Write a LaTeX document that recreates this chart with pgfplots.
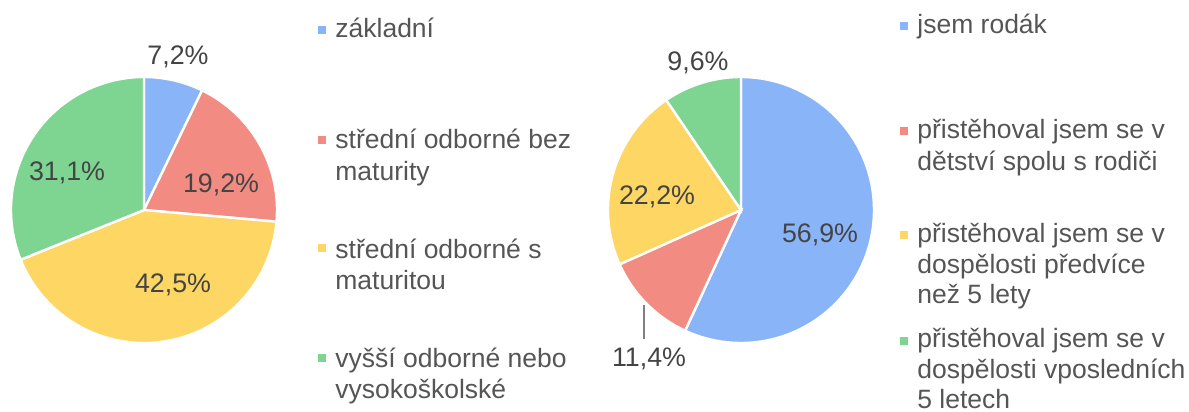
\documentclass[border=0pt]{standalone}
\usepackage{pgfplots}
\pgfplotsset{compat=1.18}
\usepackage{fontspec}
\setmainfont{Liberation Sans}
\definecolor{cBlue}{HTML}{8AB4F8}
\definecolor{cRed}{HTML}{F28B82}
\definecolor{cYellow}{HTML}{FDD663}
\definecolor{cGreen}{HTML}{7ED491}
\definecolor{lblText}{HTML}{444444}
\definecolor{legText}{HTML}{555555}
% data (percent)
\def\LA{7.2}\def\LB{19.2}\def\LC{42.5}\def\LD{31.1}
\def\RA{56.9}\def\RB{11.4}\def\RC{22.2}\def\RD{9.6}
\pgfmathsetmacro\LaA{90}
\pgfmathsetmacro\LaB{\LaA-3.6*\LA}
\pgfmathsetmacro\LaC{\LaB-3.6*\LB}
\pgfmathsetmacro\LaD{\LaC-3.6*\LC}
\pgfmathsetmacro\LaE{\LaD-3.6*\LD}
\pgfmathsetmacro\RaA{90}
\pgfmathsetmacro\RaB{\RaA-3.6*\RA}
\pgfmathsetmacro\RaC{\RaB-3.6*\RB}
\pgfmathsetmacro\RaD{\RaC-3.6*\RC}
\pgfmathsetmacro\RaE{-270}
\newcommand\lbl{\fontsize{13.4}{16}\selectfont\color{lblText}}
\newcommand\leg{\fontsize{13.25}{16}\selectfont\color{legText}}
\begin{document}
\begin{tikzpicture}
\begin{axis}[
  width=594.5pt, height=206pt, scale only axis,
  xmin=0, xmax=1189, ymin=0, ymax=412, y dir=reverse,
  hide axis, clip=false,
]
% ---- left pie: centre (144,210), r=133
\addplot[fill=cBlue, draw=white, line width=1.2pt, domain=\LaB:\LaA, samples=40, variable=\t] ({144+133*cos(t)},{210-133*sin(t)}) -- (axis cs:144,210) -- cycle;
\addplot[fill=cRed, draw=white, line width=1.2pt, domain=\LaC:\LaB, samples=60, variable=\t] ({144+133*cos(t)},{210-133*sin(t)}) -- (axis cs:144,210) -- cycle;
\addplot[fill=cYellow, draw=white, line width=1.2pt, domain=\LaD:\LaC, samples=100, variable=\t] ({144+133*cos(t)},{210-133*sin(t)}) -- (axis cs:144,210) -- cycle;
\addplot[fill=cGreen, draw=white, line width=1.2pt, domain=\LaE:\LaD, samples=80, variable=\t] ({144+133*cos(t)},{210-133*sin(t)}) -- (axis cs:144,210) -- cycle;
% ---- right pie: centre (741,210), r=133
\addplot[fill=cBlue, draw=white, line width=1.2pt, domain=\RaB:\RaA, samples=120, variable=\t] ({741+133*cos(t)},{210-133*sin(t)}) -- (axis cs:741,210) -- cycle;
\addplot[fill=cRed, draw=white, line width=1.2pt, domain=\RaC:\RaB, samples=40, variable=\t] ({741+133*cos(t)},{210-133*sin(t)}) -- (axis cs:741,210) -- cycle;
\addplot[fill=cYellow, draw=white, line width=1.2pt, domain=\RaD:\RaC, samples=60, variable=\t] ({741+133*cos(t)},{210-133*sin(t)}) -- (axis cs:741,210) -- cycle;
\addplot[fill=cGreen, draw=white, line width=1.2pt, domain=\RaE:\RaD, samples=40, variable=\t] ({741+133*cos(t)},{210-133*sin(t)}) -- (axis cs:741,210) -- cycle;
% ---- percentage labels
\node[font=\lbl] at (axis cs:178,57) {7,2\%};
\node[font=\lbl] at (axis cs:221,185) {19,2\%};
\node[font=\lbl] at (axis cs:173,285) {42,5\%};
\node[font=\lbl] at (axis cs:67,173) {31,1\%};
\node[font=\lbl] at (axis cs:698,63) {9,6\%};
\node[font=\lbl] at (axis cs:657,197) {22,2\%};
\node[font=\lbl] at (axis cs:820,235) {56,9\%};
\node[font=\lbl] at (axis cs:649,359) {11,4\%};
\draw[gray, line width=0.6pt] (axis cs:644,305) -- (axis cs:644,339);
% ---- left legend
\fill[cBlue]   (axis cs:318,26) rectangle (axis cs:326,34);
\fill[cRed]    (axis cs:318,136) rectangle (axis cs:326,144);
\fill[cYellow] (axis cs:318,244) rectangle (axis cs:326,252);
\fill[cGreen]  (axis cs:318,354) rectangle (axis cs:326,362);
\node[font=\leg, anchor=base west, inner sep=0pt] at (axis cs:335,37) {základní};
\node[font=\leg, anchor=base west, inner sep=0pt] at (axis cs:335,148) {střední odborné bez};
\node[font=\leg, anchor=base west, inner sep=0pt] at (axis cs:335,180) {maturity};
\node[font=\leg, anchor=base west, inner sep=0pt] at (axis cs:335,258) {střední odborné s};
\node[font=\leg, anchor=base west, inner sep=0pt] at (axis cs:335,289) {maturitou};
\node[font=\leg, anchor=base west, inner sep=0pt] at (axis cs:335,367) {vyšší odborné nebo};
\node[font=\leg, anchor=base west, inner sep=0pt] at (axis cs:335,398) {vysokoškolské};
% ---- right legend
\fill[cBlue]   (axis cs:900,22) rectangle (axis cs:908,30);
\fill[cRed]    (axis cs:900,127) rectangle (axis cs:908,135);
\fill[cYellow] (axis cs:900,231) rectangle (axis cs:908,239);
\fill[cGreen]  (axis cs:900,337) rectangle (axis cs:908,345);
\node[font=\leg, anchor=base west, inner sep=0pt] at (axis cs:917,33) {jsem rodák};
\node[font=\leg, anchor=base west, inner sep=0pt] at (axis cs:917,138) {přistěhoval jsem se v};
\node[font=\leg, anchor=base west, inner sep=0pt] at (axis cs:917,170) {dětství spolu s rodiči};
\node[font=\leg, anchor=base west, inner sep=0pt] at (axis cs:917,242) {přistěhoval jsem se v};
\node[font=\leg, anchor=base west, inner sep=0pt] at (axis cs:917,273) {dospělosti předvíce};
\node[font=\leg, anchor=base west, inner sep=0pt] at (axis cs:917,303) {než 5 lety};
\node[font=\leg, anchor=base west, inner sep=0pt] at (axis cs:917,347) {přistěhoval jsem se v};
\node[font=\leg, anchor=base west, inner sep=0pt] at (axis cs:917,378) {dospělosti vposledních};
\node[font=\leg, anchor=base west, inner sep=0pt] at (axis cs:917,408) {5 letech};
\end{axis}
\pgfresetboundingbox
\path (0,0) rectangle (594.5pt,206pt);
\end{tikzpicture}
\end{document}
